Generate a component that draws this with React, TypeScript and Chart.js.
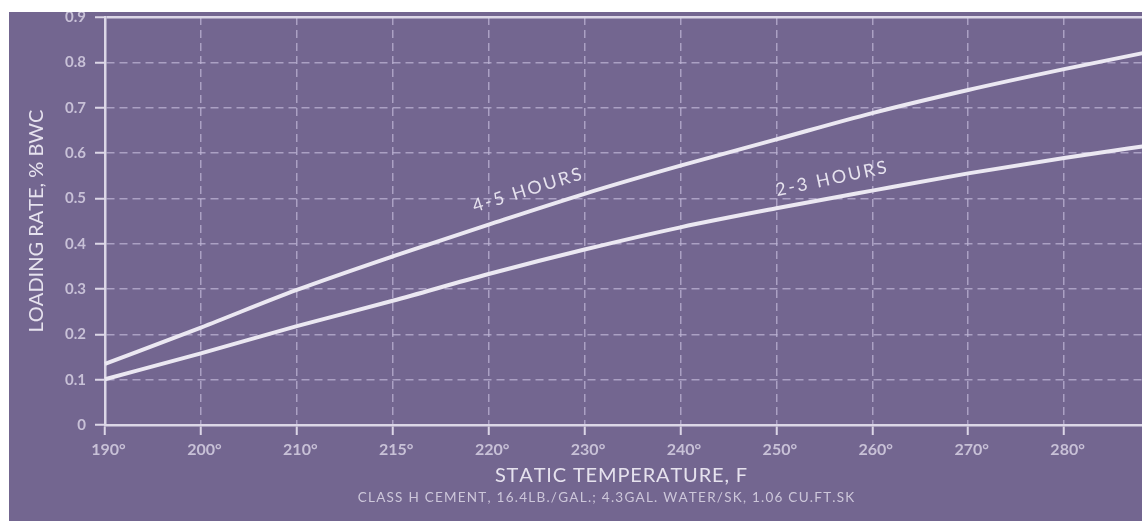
import { useEffect, useRef } from "react";
import { Chart, registerables } from "chart.js";

Chart.register(...registerables);

// ---- data ----
const temperatures = ["190°", "200°", "210°", "215°", "220°", "230°", "240°", "250°", "260°", "270°", "280°", "290°"];
const hours45 = [0.135, 0.215, 0.298, 0.372, 0.442, 0.51, 0.572, 0.63, 0.688, 0.739, 0.785, 0.828];
const hours23 = [0.101, 0.158, 0.218, 0.274, 0.333, 0.387, 0.436, 0.478, 0.517, 0.555, 0.589, 0.62];
const yTickLabels = ["0", "0.1", "0.2", "0.3", "0.4", "0.5", "0.6", "0.7", "0.8", "0.9"];
const seriesNames = ["4-5 HOURS", "2-3 HOURS"];

const xTitle = "STATIC TEMPERATURE, F";
const yTitle = "LOADING RATE, % BWC";
const subTitle = "CLASS H CEMENT, 16.4LB./GAL.; 4.3GAL. WATER/SK, 1.06 CU.FT.SK";

// curve label placement (category index, value, angle in degrees)
const curveLabelAt = [
  { at: 4.4, value: 0.518, angle: -17 },
  { at: 7.57, value: 0.543, angle: -12 },
];

const BG = "#736690";
const GRID = "rgba(190,180,212,0.75)";
const AXIS = "#dcd7e7";
const LINE = "#ebe8f2";
const TICK_TEXT = "#c8c1d7";
const TITLE_TEXT = "#e6e2ee";

function drawSpaced(ctx: CanvasRenderingContext2D, text: string, cx: number, cy: number, spacing: number) {
  const chars = Array.from(text);
  const widths = chars.map((ch) => ctx.measureText(ch).width);
  const total = widths.reduce((s, w) => s + w, 0) + spacing * (chars.length - 1);
  let x = cx - total / 2;
  ctx.textAlign = "left";
  chars.forEach((ch, i) => {
    ctx.fillText(ch, x, cy);
    x += widths[i] + spacing;
  });
}

const textPlugin = {
  id: "textPlugin",
  afterDraw(chart: any) {
    const { ctx, chartArea: a, scales } = chart;
    ctx.save();
    ctx.textBaseline = "middle";

    ctx.fillStyle = TITLE_TEXT;
    ctx.font = "20px Lato";
    drawSpaced(ctx, xTitle, a.left + 516, a.bottom + 51, 0.85);

    ctx.fillStyle = "#cdc7da";
    ctx.font = "13.5px Lato";
    drawSpaced(ctx, subTitle, a.left + 501, a.bottom + 73, 1.25);

    ctx.save();
    ctx.fillStyle = TITLE_TEXT;
    ctx.translate(27.5, (a.top + a.bottom) / 2);
    ctx.rotate(-Math.PI / 2);
    ctx.font = "20px Lato";
    drawSpaced(ctx, yTitle, 0, 0, 0);
    ctx.restore();

    ctx.fillStyle = TITLE_TEXT;
    ctx.font = "18px Lato";
    seriesNames.forEach((name, i) => {
      const p = curveLabelAt[i];
      const x = scales.x.getPixelForValue(p.at);
      const y = scales.y.getPixelForValue(p.value);
      ctx.save();
      ctx.translate(x, y);
      ctx.rotate((p.angle * Math.PI) / 180);
      drawSpaced(ctx, name, 0, 0, 2.3);
      ctx.restore();
    });
    ctx.restore();
  },
};

export default function App() {
  const ref = useRef<HTMLCanvasElement | null>(null);

  useEffect(() => {
    if (!ref.current) return;
    const isTop = (c: any) => c.tick && Math.abs(c.tick.value - 0.9) < 1e-6;
    const chart = new Chart(ref.current, {
      type: "line",
      data: {
        labels: temperatures,
        datasets: [
          {
            label: seriesNames[0],
            data: hours45,
            borderColor: LINE,
            borderWidth: 4,
            pointRadius: 0,
            cubicInterpolationMode: "monotone",
          },
          {
            label: seriesNames[1],
            data: hours23,
            borderColor: LINE,
            borderWidth: 4,
            pointRadius: 0,
            cubicInterpolationMode: "monotone",
          },
        ],
      },
      options: {
        animation: false,
        responsive: true,
        maintainAspectRatio: false,
        layout: { padding: { top: 5, right: 49, left: 0, bottom: 0 } },
        plugins: {
          legend: { display: false },
          tooltip: { enabled: false },
          title: { display: false },
        },
        scales: {
          x: {
            type: "category",
            offset: false,
            afterFit: (s: any) => {
              s.height = 96;
              s.paddingLeft = 0;
              s.paddingRight = 0;
            },
            grid: {
              color: (c: any) => (c.index === 0 ? "rgba(0,0,0,0)" : GRID),
              lineWidth: 1.5,
              drawTicks: true,
              tickLength: 10,
              tickColor: AXIS,
              tickWidth: 2,
              tickBorderDash: [],
            },
            border: { display: true, color: AXIS, width: 2.5, dash: [8, 5] },
            ticks: {
              color: TICK_TEXT,
              font: { family: "Lato", size: 16, weight: "bold" },
              padding: 5,
              labelOffset: 3.5,
              maxRotation: 0,
              autoSkip: false,
            },
          },
          y: {
            min: 0,
            max: 0.9,
            afterFit: (s: any) => {
              s.width = 96;
              s.paddingTop = 0;
              s.paddingBottom = 0;
            },
            afterBuildTicks: (s: any) => {
              s.ticks = yTickLabels.map((_, i) => ({ value: i / 10 }));
            },
            grid: {
              color: (c: any) => (isTop(c) ? AXIS : c.index === 0 ? "rgba(0,0,0,0)" : GRID),
              lineWidth: (c: any) => (isTop(c) ? 2.5 : 1.5),
              drawTicks: true,
              tickLength: 10,
              tickColor: AXIS,
              tickWidth: 2,
              tickBorderDash: [],
            },
            border: {
              display: true,
              color: AXIS,
              width: 2.5,
              dash: (c: any) => (isTop(c) ? [] : [8, 5]),
            },
            ticks: {
              color: TICK_TEXT,
              font: { family: "Lato", size: 15, weight: "bold" },
              padding: 9,
              callback: (_v: any, i: number) => yTickLabels[i],
            },
          },
        },
      },
      plugins: [textPlugin],
    } as any);
    return () => chart.destroy();
  }, []);

  return (
    <div
      style={{
        position: "fixed",
        left: 9,
        top: 12,
        right: 0,
        bottom: 0,
        overflow: "hidden",
        background: BG,
      }}
    >
      <div style={{ position: "absolute", left: 0, top: 0, width: 1200, height: 509 }}>
        <canvas ref={ref} />
      </div>
    </div>
  );
}
